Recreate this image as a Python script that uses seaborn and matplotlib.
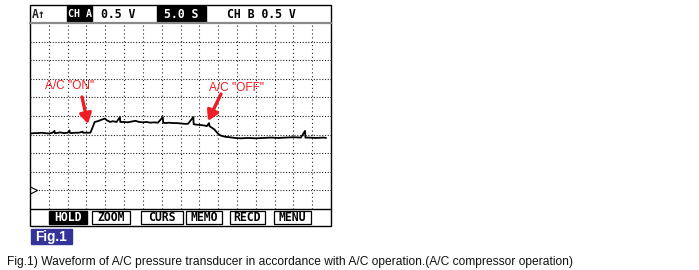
import matplotlib
matplotlib.use("Agg")
import matplotlib.pyplot as plt
import seaborn as sns
import pandas as pd
from matplotlib.patches import Rectangle

# ---------------- data ----------------
# time (s) at 5 s/div, voltage (V) at 0.5 V/div
time_s = [0.3, 1, 2, 3, 4, 5, 6, 6.5, 6.6, 7, 8, 9, 10, 10.5, 10.6, 11, 12, 13,
          14, 14.1, 15, 16, 16.1, 17.2, 18, 19, 19.9, 20.5, 21.3, 22, 23, 23.9, 24.0,
          25, 26, 27, 28, 29, 30, 31, 32, 33, 34, 35.3, 35.4, 36, 37, 38, 39, 40,
          41, 42, 43.4, 43.5, 44, 45, 46, 47, 47.6, 47.7, 48.1, 49, 50, 50.8, 52,
          53, 54.5, 56, 58, 60, 62, 64, 66, 68, 70, 72, 73.1, 73.2, 74, 76, 78, 78.7]
volts = [1.53, 1.54, 1.54, 1.55, 1.54, 1.53, 1.55, 1.60, 1.54, 1.54, 1.56, 1.54, 1.55,
         1.61, 1.55, 1.54, 1.55, 1.55, 1.58, 1.55, 1.55, 1.55, 1.56, 1.84, 1.86, 1.90,
         1.93, 1.88, 1.84, 1.86, 1.84, 1.97, 1.84, 1.84, 1.83, 1.85, 1.87, 1.84, 1.83,
         1.84, 1.82, 1.83, 1.82, 1.97, 1.82, 1.81, 1.82, 1.81, 1.81, 1.80, 1.79, 1.79,
         1.97, 1.78, 1.77, 1.76, 1.75, 1.73, 1.81, 1.73, 1.70, 1.64, 1.52, 1.47, 1.44,
         1.43, 1.41, 1.40, 1.41, 1.40, 1.41, 1.42, 1.41, 1.42, 1.43, 1.42, 1.60, 1.42,
         1.42, 1.41, 1.42, 1.41]

header_labels = ["CH A", "0.5 V", "5.0 S", "CH B 0.5 V"]
button_labels = ["HOLD", "ZOOM", "CURS", "MEMO", "RECD", "MENU"]
annot_labels = ['A/C "ON"', 'A/C "OFF"']
caption = ("Fig.1) Waveform of A/C pressure transducer in accordance with "
           "A/C operation.(A/C compressor operation)")

df = pd.DataFrame({"t": time_s, "v": volts})

# ---------------- figure ----------------
sns.set_style("white")
plt.rcParams["font.family"] = ["Liberation Sans", "DejaVu Sans"]

W, H = 699, 270
fig = plt.figure(figsize=(W / 100, H / 100), dpi=100)
fig.patch.set_facecolor("white")

def fx(px):
    return px / W

def fy(py):
    return 1 - py / H

# data axes = grid area of the scope screen
gx0, gx1, gy0, gy1 = 30, 331, 23, 209
ax = fig.add_axes([fx(gx0), fy(gy1), fx(gx1 - gx0), (gy1 - gy0) / H])
ax.set_xlim(0, 80)
ax.set_ylim(-0.5, 4.5)
for s in ax.spines.values():
    s.set_visible(False)
ax.set_xticks([])
ax.set_yticks([])
for k in range(1, 16):
    ax.axvline(k * 5, color="#222222", lw=0.8, ls=(0, (1, 2.5)), zorder=1)
for k in range(0, 9):
    ax.axhline(k * 0.5, color="#222222", lw=0.8, ls=(0, (1, 1.5)), zorder=1)

sns.lineplot(data=df, x="t", y="v", ax=ax, color="black", lw=1.3,
             estimator=None, sort=False, zorder=3)
ax.set_xlabel("")
ax.set_ylabel("")
# ground marker
ax.plot([0.8], [0.0], marker=">", ms=6, mfc="white", mec="black", mew=0.8, zorder=4)

# overlay axes in pixel coordinates
ov = fig.add_axes([0, 0, 1, 1], zorder=5)
ov.set_xlim(0, W)
ov.set_ylim(H, 0)
ov.axis("off")
ov.patch.set_alpha(0)

# screen frame
ov.add_patch(Rectangle((30, 5), 301, 221, fill=False, ec="black", lw=1.0))
ov.plot([30, 331], [23, 23], color="#8a8a8a", lw=1.6)
ov.plot([30, 331], [209, 209], color="black", lw=1.0)

mono = dict(family="DejaVu Sans Mono", fontweight="bold", va="center")
hy = 14
ov.text(32, hy, "A↑", ha="left", fontsize=8.3, **mono)
ov.add_patch(Rectangle((67, 6), 25, 16, color="black"))
ov.text(79.5, hy, header_labels[0], ha="center", color="white", fontsize=7.2, **mono)
ov.text(101, hy, header_labels[1], ha="left", color="black", fontsize=8.3, **mono)
ov.add_patch(Rectangle((157, 6), 49, 16, color="black"))
ov.text(181.5, hy, header_labels[2], ha="center", color="white", fontsize=8.3, **mono)
ov.text(227, hy, header_labels[3], ha="left", color="black", fontsize=8.3, **mono)

# buttons
bx = [(49, 87), (92, 130), (141, 183), (186, 222), (230, 265), (274, 311)]
bmono = dict(family="DejaVu Sans Mono", fontweight="bold", fontsize=8.3,
             va="center", ha="center")
for i, ((a, b), lab) in enumerate(zip(bx, button_labels)):
    if i == 0:
        ov.add_patch(Rectangle((a, 211), b - a, 13, color="black"))
        ov.text((a + b) / 2, 217.5, lab, color="white", **bmono)
    else:
        ov.add_patch(Rectangle((a, 211), b - a, 13, fill=False, ec="black", lw=0.9))
        ov.text((a + b) / 2, 217.5, lab, color="black", **bmono)

# red annotations
red = "#ee1c24"
ov.text(45, 86, annot_labels[0], color=red, fontsize=8.6, va="center", ha="left")
ov.text(209, 88, annot_labels[1], color=red, fontsize=8.6, va="center", ha="left")
ov.annotate("", xy=(88, 124), xytext=(82, 97),
            arrowprops=dict(arrowstyle="-|>,head_length=0.6,head_width=0.35",
                            color=red, lw=2.4, shrinkA=0, shrinkB=0))
ov.annotate("", xy=(208, 121), xytext=(221, 94),
            arrowprops=dict(arrowstyle="-|>,head_length=0.6,head_width=0.35",
                            color=red, lw=2.4, shrinkA=0, shrinkB=0))

# Fig.1 label
ov.add_patch(Rectangle((31, 229), 41, 15, color="#33339a"))
ov.text(51.5, 236.8, "Fig.1", color="white", fontsize=9.8, fontweight="bold",
        ha="center", va="center")

# caption
ov.text(7, 262, caption, color="#111111", fontsize=8.65, ha="left", va="center")

fig.savefig("out.png", dpi=100, facecolor="white")
